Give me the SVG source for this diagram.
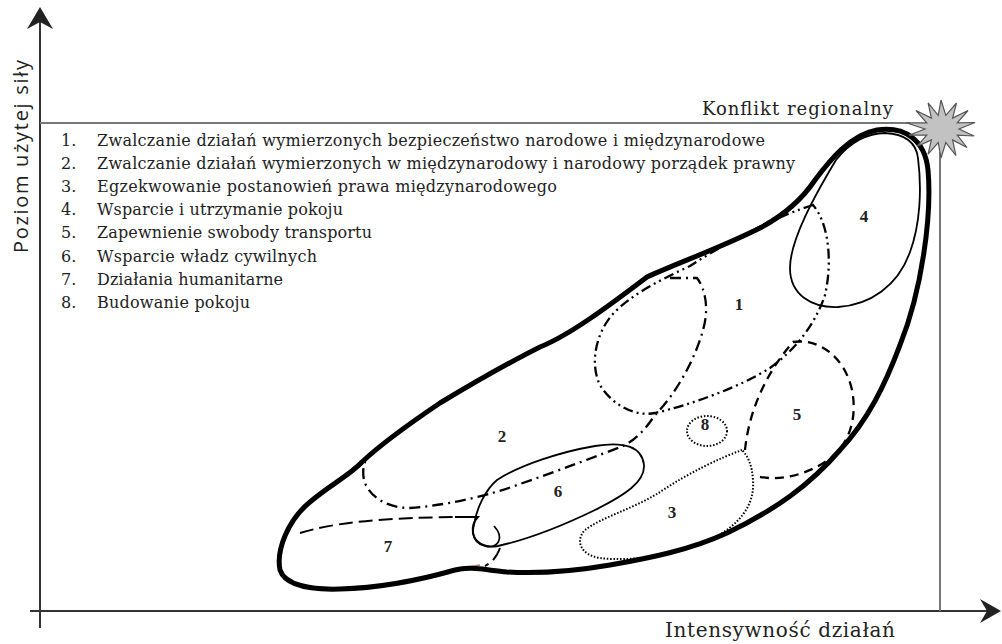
<svg xmlns="http://www.w3.org/2000/svg" width="1002" height="644" viewBox="0 0 1002 644">
<style>
.leg{font-family:"DejaVu Serif","Liberation Serif",serif;font-size:16px;fill:#222}
.num{font-family:"Liberation Serif","Times New Roman",serif;font-size:17px;font-weight:bold;fill:#222;text-anchor:middle}
.ax{stroke:#333;stroke-width:2;fill:none}
.ref{stroke:#777;stroke-width:2;fill:none}
.outer{stroke:#000;stroke-width:5;fill:none;stroke-linejoin:round}
.solid{stroke:#000;stroke-width:1.8;fill:none}
.dd{stroke:#000;stroke-width:2.3;fill:none;stroke-dasharray:10 4 2 4 2 4}
.d1{stroke:#000;stroke-width:2.3;fill:none;stroke-dasharray:11 5 2 5}
.dash{stroke:#000;stroke-width:2.3;fill:none;stroke-dasharray:9 6}
.dash7{stroke:#000;stroke-width:2;fill:none;stroke-dasharray:14 6}
.dot{stroke:#000;stroke-width:2;fill:none;stroke-dasharray:1.5 1.8}
</style>
<rect width="1002" height="644" fill="#fff"/>
<g id="connectors">
  <line class="ax" x1="40" y1="628" x2="40" y2="20"/>
  <path d="M40,7 L53,29 L40,22 L27,29 Z" fill="#222"/>
  <line class="ax" x1="30" y1="611" x2="990" y2="611"/>
  <path d="M1001,611 L980,599 L987,611 L980,623 Z" fill="#222"/>
  <line class="ref" x1="40" y1="123" x2="910" y2="123"/>
  <line class="ref" x1="940" y1="152" x2="940" y2="611"/>
</g>
<g id="axis-labels">
  <text transform="translate(28,253) rotate(-90)" font-family="'Open Sans',Lato,'Liberation Sans',sans-serif" font-size="20" fill="#222" textLength="193">Poziom użytej siły</text>
  <text x="665" y="637" font-family="'DejaVu Serif','Liberation Serif',serif" font-size="20" fill="#222" textLength="230">Intensywność działań</text>
  <text x="702" y="115" font-family="'DejaVu Serif','Liberation Serif',serif" font-size="18" fill="#222" textLength="191">Konflikt regionalny</text>
</g>
<g id="legend">
  <text class="leg" x="61" y="146">1.</text><text class="leg" x="97" y="146" textLength="668">Zwalczanie działań wymierzonych bezpieczeństwo narodowe i międzynarodowe</text>
  <text class="leg" x="61" y="169">2.</text><text class="leg" x="97" y="169" textLength="698">Zwalczanie działań wymierzonych w międzynarodowy i narodowy porządek prawny</text>
  <text class="leg" x="61" y="192">3.</text><text class="leg" x="97" y="192" textLength="460">Egzekwowanie postanowień prawa międzynarodowego</text>
  <text class="leg" x="61" y="215">4.</text><text class="leg" x="97" y="215" textLength="246">Wsparcie i utrzymanie pokoju</text>
  <text class="leg" x="61" y="238">5.</text><text class="leg" x="97" y="238" textLength="275">Zapewnienie swobody transportu</text>
  <text class="leg" x="61" y="262">6.</text><text class="leg" x="97" y="262" textLength="220">Wsparcie władz cywilnych</text>
  <text class="leg" x="61" y="285">7.</text><text class="leg" x="97" y="285" textLength="186">Działania humanitarne</text>
  <text class="leg" x="61" y="308">8.</text><text class="leg" x="97" y="308" textLength="153">Budowanie pokoju</text>
</g>
<g id="region-4">
  <path class="solid" d="M836,160 C850,142 868,133 885,133 C905,134 916,142 918,158 C922,190 920,225 910,252 C898,286 870,305 838,307 C812,308 790,295 790,268 C790,240 815,195 836,160 Z"/>
  <text class="num" x="864" y="222">4</text>
</g>
<g id="region-1">
  <path class="dd" d="M813,205 C780,215 730,240 690,266 C660,280 630,295 612,315 C595,335 590,365 600,385 C612,405 635,417 655,413 C690,405 740,387 770,368 C795,350 815,325 825,295 C832,265 830,225 813,205 Z"/>
  <text class="num" x="739" y="310">1</text>
</g>
<g id="region-2">
  <path class="d1" d="M670,278 L697,278 C706,290 709,310 703,330 C695,360 675,395 655,415 C645,430 635,440 623,446 C600,455 560,470 520,484 C490,495 450,505 410,508 C385,508 368,495 364,480 C362,470 364,463 367,458"/>
  <text class="num" x="502" y="442">2</text>
</g>
<g id="region-5">
  <path class="dash" d="M745,450 C748,420 760,380 793,342 C820,338 845,358 852,390 C858,420 848,448 825,462 C805,475 778,482 757,476"/>
  <text class="num" x="797" y="420">5</text>
</g>
<g id="region-3">
  <path class="dot" d="M742,450 C720,458 690,472 660,492 C635,508 600,518 585,530 C575,540 580,555 600,558 C630,562 680,555 710,540 C740,525 755,505 753,480 C752,465 748,456 742,450 Z"/>
  <text class="num" x="672" y="518">3</text>
</g>
<g id="region-8">
  <ellipse class="dot" cx="707" cy="431" rx="20" ry="15"/>
  <text class="num" x="705" y="430">8</text>
</g>
<g id="region-6">
  <path class="solid" d="M497,480 C520,465 560,452 595,446 C625,441 642,447 644,465 C645,482 625,495 595,510 C560,527 525,540 498,546 C480,549 470,538 474,525 C476,510 485,490 497,480 Z"/>
  <text class="num" x="558" y="497">6</text>
</g>
<g id="region-7">
  <path class="dash7" d="M300,533 C330,524 370,518 455,517"/>
  <path class="solid" d="M455,517 L478,517 C470,525 470,542 485,546 C498,549 505,538 494,526"/>
  <path class="dash7" d="M500,548 C497,556 493,562 485,566"/>
  <path d="M463,568 L480,565" stroke="#b07070" stroke-width="1.5" fill="none"/>
  <text class="num" x="388" y="552">7</text>
</g>
<g id="outer-range">
  <path class="outer" d="M877,130 C905,126 925,140 928,170 C932,215 922,290 900,345 C885,385 868,420 840,450 C810,485 775,510 727,533 C690,550 650,558 610,565 C575,571 540,574 507,572 C485,570 470,566 455,570 C420,580 380,588 340,589 C310,590 285,585 280,570 C276,550 288,520 310,502 C330,485 350,475 362,462 C380,445 400,430 440,403 C470,385 510,362 540,347 C570,335 610,305 647,277 C680,262 720,248 760,228 C790,212 805,195 815,180 C830,160 850,135 877,130 Z"/>
</g>
<g id="conflict-star">
  <polygon points="941,100 945.8,115.4 956.5,103 952.6,118.1 968,110.5 957.3,122.9 975,122.5 959,129 974,136 957.3,135.1 967,147.5 952.6,139.9 955.9,155.5 945.8,142.6 941,158 938.2,142.6 928.1,154.2 931.4,139.9 917,146.5 926.7,135.1 909,135.2 925,129 906,122.8 926.7,122.9 916,110.5 931.4,118.1 928.1,102.8 938.2,115.4" fill="#c2c2c2" stroke="#555" stroke-width="1.2"/>
</g>
</svg>
